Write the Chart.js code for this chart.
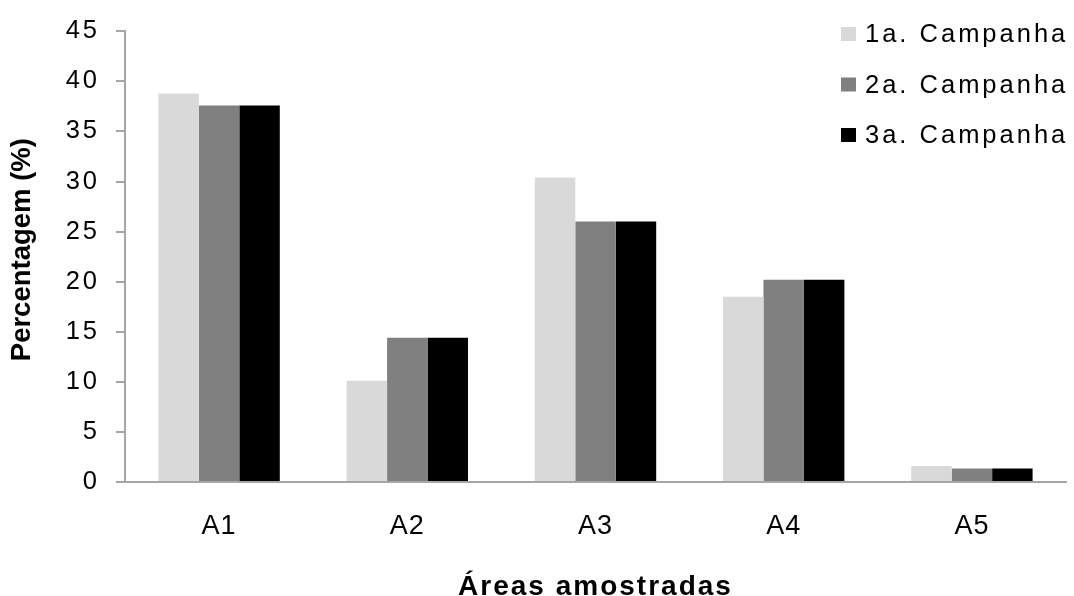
<!DOCTYPE html>
<html lang="pt">
<head>
<meta charset="utf-8">
<title>Percentagem por área amostrada</title>
<script src="https://cdn.jsdelivr.net/npm/chart.js@4/dist/chart.umd.min.js"></script>
<style>
  html, body { margin: 0; padding: 0; background: #ffffff; overflow: hidden; }
  #wrap { width: 1074px; height: 596px; overflow: hidden; }
  canvas { display: block; }
</style>
</head>
<body>
<div id="wrap"><canvas id="grafico" width="1074" height="610"></canvas></div>
<script>
// Áreas amostradas (eixo X)
const areas = ['A1', 'A2', 'A3', 'A4', 'A5'];

// Percentagem (%) em cada campanha
const campanha1 = [38.8, 10.1, 30.4, 18.5, 1.6];
const campanha2 = [37.6, 14.4, 26.0, 20.2, 1.35];
const campanha3 = [37.6, 14.4, 26.0, 20.2, 1.35];

const nomesCampanhas = ['1a. Campanha', '2a. Campanha', '3a. Campanha'];
const coresCampanhas = ['#d9d9d9', '#808080', '#000000'];

// Escala do eixo Y
const yMin = 0;
const yMax = 45;
const yPasso = 5;

const FONTE = '"Liberation Sans", Arial, Helvetica, sans-serif';
const COR_EIXO = '#a6a6a6';

// Espaçamento entre letras por eixo (rótulos e títulos) e ajuste do título
const estiloTexto = {
  x: { ticks: '1px', title: '2px', tituloDy: 0 },
  y: { ticks: '3px', title: '0px', tituloDy: -7 }
};

function comEstilo(fn, parte) {
  return function () {
    const ctx = this.ctx;
    const cfg = estiloTexto[this.id];
    ctx.save();
    if (cfg && 'letterSpacing' in ctx) ctx.letterSpacing = cfg[parte];
    if (cfg && parte === 'title' && cfg.tituloDy) ctx.translate(0, cfg.tituloDy);
    fn.apply(this, arguments);
    ctx.restore();
  };
}
Chart.Scale.prototype.drawLabels = comEstilo(Chart.Scale.prototype.drawLabels, 'ticks');
Chart.Scale.prototype.drawTitle = comEstilo(Chart.Scale.prototype.drawTitle, 'title');

// Legenda no canto superior direito, dentro da área do gráfico
const legendaCampanhas = {
  id: 'legendaCampanhas',
  afterDraw(chart) {
    const ctx = chart.ctx;
    ctx.save();
    if ('letterSpacing' in ctx) ctx.letterSpacing = '3px';
    ctx.font = '25.5px ' + FONTE;
    ctx.textBaseline = 'middle';
    ctx.textAlign = 'left';
    const xQuadrado = 841;
    const yInicio = 34;
    const passo = 50.5;
    chart.data.datasets.forEach((ds, i) => {
      const yc = yInicio + i * passo;
      ctx.fillStyle = ds.backgroundColor;
      ctx.fillRect(xQuadrado, yc - 7, 15, 14);
      ctx.fillStyle = '#000000';
      ctx.fillText(ds.label, xQuadrado + 24, yc + 1);
    });
    ctx.restore();
  }
};

Chart.defaults.color = '#000000';
Chart.defaults.font.family = FONTE;

const series = [campanha1, campanha2, campanha3];

new Chart(document.getElementById('grafico'), {
  type: 'bar',
  data: {
    labels: areas,
    datasets: series.map((valores, i) => ({
      label: nomesCampanhas[i],
      data: valores,
      backgroundColor: coresCampanhas[i],
      borderWidth: 0,
      categoryPercentage: 0.645,
      barPercentage: 1.0
    }))
  },
  options: {
    responsive: false,
    animation: false,
    devicePixelRatio: 1,
    layout: { padding: { top: 25, right: 8, bottom: 0, left: 0 } },
    plugins: {
      legend: { display: false },
      tooltip: { enabled: false },
      title: { display: false }
    },
    scales: {
      x: {
        grid: { display: false, drawTicks: false },
        border: { display: true, color: COR_EIXO, width: 2 },
        ticks: { font: { size: 27 }, padding: 28, color: '#000000' },
        title: {
          display: true,
          text: 'Áreas amostradas',
          font: { size: 28, weight: 'bold' },
          color: '#000000',
          padding: { top: 0, bottom: 6 }
        },
        afterFit(scale) { scale.height = 128; }
      },
      y: {
        min: yMin,
        max: yMax,
        grid: {
          display: true,
          drawOnChartArea: false,
          drawTicks: true,
          tickLength: 9,
          color: COR_EIXO,
          lineWidth: 2
        },
        border: { display: true, color: COR_EIXO, width: 2 },
        ticks: { stepSize: yPasso, font: { size: 25.5 }, padding: 16, color: '#000000' },
        title: {
          display: true,
          text: 'Percentagem (%)',
          font: { size: 27.5, weight: 'bold' },
          color: '#000000',
          padding: { top: 6, bottom: 0 }
        },
        afterFit(scale) { scale.width = 125; }
      }
    }
  },
  plugins: [legendaCampanhas]
});
</script>
</body>
</html>
